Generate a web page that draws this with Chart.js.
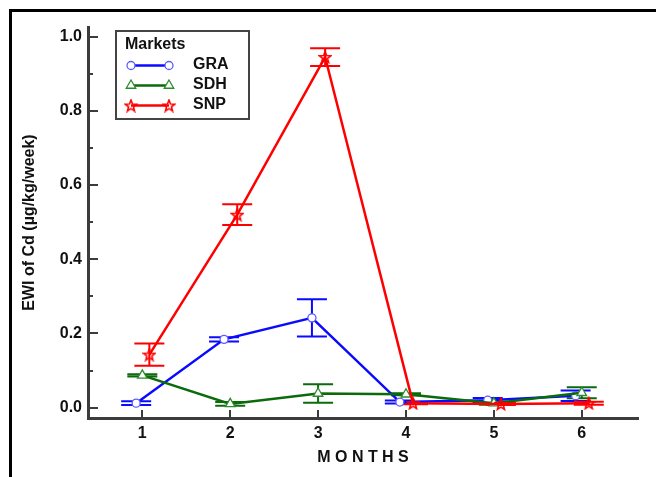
<!DOCTYPE html>
<html>
<head>
<meta charset="utf-8">
<script src="https://cdn.jsdelivr.net/npm/chart.js@4.4.1/dist/chart.umd.min.js"></script>
<style>
  html, body { margin: 0; padding: 0; background: #fff; }
  canvas { display: block; }
</style>
</head>
<body>
<canvas id="ewiChart" width="656" height="477"></canvas>
<script>
// EWI of Cd by month for each market (mean and SD)
const months = [1, 2, 3, 4, 5, 6];
const yMajorTicks = [0, 0.2, 0.4, 0.6, 0.8, 1.0];

const graValues = [0.012, 0.184, 0.242, 0.015, 0.020, 0.032];
const graErrors = [0.005, 0.006, 0.050, 0.004, 0.006, 0.014];

const sdhValues = [0.087, 0.010, 0.038, 0.036, 0.012, 0.040];
const sdhErrors = [0.003, 0.005, 0.025, 0.003, 0.004, 0.015];

const snpValues = [0.143, 0.520, 0.945, 0.012, 0.010, 0.012];
const snpErrors = [0.030, 0.028, 0.024, 0.003, 0.003, 0.004];

const FONT = '"Liberation Sans", Arial, sans-serif';
const AXIS_COLOR = '#3c3c3c';

// small open five-point star used as the SNP marker
function starImage(color) {
    const c = document.createElement('canvas');
    c.width = 14;
    c.height = 14;
    const g = c.getContext('2d');
    g.strokeStyle = color;
    g.lineWidth = 1.6;
    g.beginPath();
    for (let k = 0; k < 10; k++) {
        const r = k % 2 ? 2.6 : 6;
        const ang = -Math.PI / 2 + k * Math.PI / 5;
        const px = 7 + r * Math.cos(ang);
        const py = 7.6 + r * Math.sin(ang);
        if (k === 0) g.moveTo(px, py); else g.lineTo(px, py);
    }
    g.closePath();
    g.stroke();
    return c;
}

function series(values, shift) {
    return months.map((m, i) => ({ x: m + shift, y: values[i] }));
}

// frame lines along the top and left of the figure
const frame = {
    id: 'frame',
    beforeDraw(chart) {
        const { ctx } = chart;
        ctx.save();
        ctx.fillStyle = '#000';
        ctx.fillRect(9, 9, chart.width - 9, 3);
        ctx.fillRect(9, 9, 3, chart.height - 9);
        ctx.restore();
    }
};

// tick marks pointing into the plot
const inwardTicks = {
    id: 'inwardTicks',
    beforeDatasetsDraw(chart) {
        const { ctx, chartArea: a, scales: { x, y } } = chart;
        ctx.save();
        ctx.strokeStyle = AXIS_COLOR;
        ctx.lineWidth = 2;
        ctx.beginPath();
        yMajorTicks.forEach((v, i) => {
            const py = Math.round(y.getPixelForValue(v));
            ctx.moveTo(a.left, py);
            ctx.lineTo(a.left + 10, py);
            if (i < yMajorTicks.length - 1) {
                const my = Math.round(y.getPixelForValue((v + yMajorTicks[i + 1]) / 2));
                ctx.moveTo(a.left, my);
                ctx.lineTo(a.left + 5, my);
            }
        });
        months.forEach(m => {
            const px = Math.round(x.getPixelForValue(m));
            ctx.moveTo(px, a.bottom);
            ctx.lineTo(px, a.bottom - 8);
        });
        ctx.stroke();
        ctx.restore();
    }
};

// vertical SD bars with caps, under the lines and markers
const errorBars = {
    id: 'errorBars',
    beforeDatasetsDraw(chart) {
        const { ctx, scales: { y } } = chart;
        chart.data.datasets.forEach((ds, i) => {
            const meta = chart.getDatasetMeta(i);
            ctx.save();
            ctx.strokeStyle = ds.borderColor;
            ctx.lineWidth = 2;
            ctx.beginPath();
            meta.data.forEach((pt, j) => {
                const v = ds.data[j].y;
                const e = ds.errors[j];
                const hi = y.getPixelForValue(v + e);
                const lo = y.getPixelForValue(v - e);
                ctx.moveTo(pt.x, hi);
                ctx.lineTo(pt.x, lo);
                ctx.moveTo(pt.x - 15, hi);
                ctx.lineTo(pt.x + 15, hi);
                ctx.moveTo(pt.x - 15, lo);
                ctx.lineTo(pt.x + 15, lo);
            });
            ctx.stroke();
            ctx.restore();
        });
    }
};

// boxed legend with a line and two markers per market
const boxLegend = {
    id: 'boxLegend',
    afterDraw(chart) {
        const { ctx, chartArea: a } = chart;
        const left = a.left + 28;
        const top = a.top + 4;
        ctx.save();
        ctx.fillStyle = '#fff';
        ctx.fillRect(left, top, 133, 88);
        ctx.strokeStyle = '#444';
        ctx.lineWidth = 2;
        ctx.strokeRect(left, top, 133, 88);
        ctx.fillStyle = '#111';
        ctx.font = 'bold 16px ' + FONT;
        ctx.textBaseline = 'middle';
        ctx.fillText('Markets', left + 9, top + 14);
        chart.data.datasets.forEach((ds, i) => {
            const yy = top + 34.5 + i * 20;
            ctx.strokeStyle = ds.borderColor;
            ctx.lineWidth = 2.5;
            ctx.beginPath();
            ctx.moveTo(left + 15, yy);
            ctx.lineTo(left + 53, yy);
            ctx.stroke();
            [left + 15, left + 53].forEach(px => {
                ctx.fillStyle = ds.pointBackgroundColor;
                ctx.strokeStyle = ds.pointBorderColor;
                ctx.lineWidth = ds.pointBorderWidth;
                Chart.helpers.drawPoint(ctx, {
                    pointStyle: ds.pointStyle,
                    radius: ds.pointRadius,
                    borderWidth: ds.pointBorderWidth,
                    rotation: 0
                }, px, yy);
            });
            ctx.fillStyle = '#111';
            ctx.fillText(ds.label, left + 77, yy - 1);
        });
        ctx.restore();
    }
};

new Chart(document.getElementById('ewiChart'), {
    type: 'line',
    data: {
        datasets: [
            {
                label: 'GRA',
                data: series(graValues, -0.07),
                errors: graErrors,
                borderColor: '#0a0aff',
                borderWidth: 2.5,
                pointStyle: 'circle',
                pointRadius: 4,
                pointBorderWidth: 1.3,
                pointBorderColor: '#5c5cff',
                pointBackgroundColor: '#fff',
                order: 3
            },
            {
                label: 'SDH',
                data: series(sdhValues, 0),
                errors: sdhErrors,
                borderColor: '#0b6b0b',
                borderWidth: 2.5,
                pointStyle: 'triangle',
                pointRadius: 5.5,
                pointBorderWidth: 1.3,
                pointBorderColor: '#2e8a2e',
                pointBackgroundColor: '#fff',
                order: 2
            },
            {
                label: 'SNP',
                data: series(snpValues, 0.08),
                errors: snpErrors,
                borderColor: '#ff0000',
                borderWidth: 2.5,
                pointStyle: starImage('#ff0000'),
                pointRadius: 6,
                pointBorderWidth: 1.5,
                pointBorderColor: '#ff0000',
                pointBackgroundColor: '#fff',
                order: 1
            }
        ]
    },
    options: {
        responsive: false,
        animation: false,
        layout: { padding: { left: 20, top: 27, right: 18, bottom: 10 } },
        plugins: {
            legend: { display: false },
            tooltip: { enabled: false }
        },
        elements: { line: { tension: 0 } },
        scales: {
            x: {
                type: 'linear',
                min: 0.382,
                max: 6.64,
                afterBuildTicks: s => { s.ticks = months.map(v => ({ value: v })); },
                afterFit: s => { s.height = 49; },
                grid: { display: false, drawTicks: false },
                border: { display: true, color: AXIS_COLOR, width: 3 },
                ticks: {
                    padding: 6,
                    autoSkip: false,
                    maxRotation: 0,
                    color: '#111',
                    font: { family: FONT, size: 16, weight: 'bold' }
                },
                title: {
                    display: true,
                    text: 'M O N T H S',
                    color: '#111',
                    padding: { top: 0, bottom: 0 },
                    font: { family: FONT, size: 16, weight: 'bold' }
                }
            },
            y: {
                min: -0.028,
                max: 1.026,
                afterBuildTicks: s => { s.ticks = yMajorTicks.map(v => ({ value: v })); },
                afterFit: s => { s.width = 68; },
                grid: { display: false, drawTicks: false },
                border: { display: true, color: AXIS_COLOR, width: 3 },
                ticks: {
                    padding: 6,
                    autoSkip: false,
                    color: '#111',
                    font: { family: FONT, size: 16, weight: 'bold' },
                    callback: v => v.toFixed(1)
                },
                title: {
                    display: true,
                    text: 'EWI of Cd (\u00b5g/kg/week)',
                    color: '#111',
                    padding: { top: 0, bottom: 0 },
                    font: { family: FONT, size: 16, weight: 'bold' }
                }
            }
        }
    },
    plugins: [frame, inwardTicks, errorBars, boxLegend]
});
</script>
</body>
</html>
